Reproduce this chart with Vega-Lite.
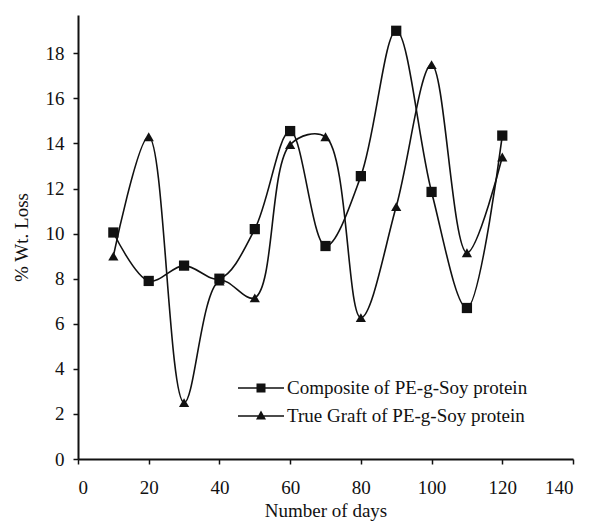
{
  "$schema": "https://vega.github.io/schema/vega-lite/v6.json",
  "width": 495,
  "height": 444,
  "autosize": {"type": "none"},
  "padding": {"left": 78, "top": 15, "right": 17, "bottom": 67},
  "background": "white",
  "config": {
    "view": {"stroke": null},
    "font": "Liberation Serif",
    "axis": {
      "grid": false,
      "domainColor": "#111",
      "domainWidth": 2,
      "tickColor": "#111",
      "tickWidth": 1.5,
      "tickSize": 5,
      "labelFont": "Liberation Serif",
      "labelFontSize": 19,
      "labelColor": "#111",
      "titleFont": "Liberation Serif",
      "titleFontSize": 19,
      "titleFontWeight": "normal",
      "titleColor": "#111"
    }
  },
  "data": {
    "values": [
      {"day": 10, "loss": 10.05, "series": "Composite of PE-g-Soy protein"},
      {"day": 20, "loss": 7.9, "series": "Composite of PE-g-Soy protein"},
      {"day": 30, "loss": 8.58, "series": "Composite of PE-g-Soy protein"},
      {"day": 40, "loss": 8.0, "series": "Composite of PE-g-Soy protein"},
      {"day": 50, "loss": 10.2, "series": "Composite of PE-g-Soy protein"},
      {"day": 60, "loss": 14.55, "series": "Composite of PE-g-Soy protein"},
      {"day": 70, "loss": 9.45, "series": "Composite of PE-g-Soy protein"},
      {"day": 80, "loss": 12.55, "series": "Composite of PE-g-Soy protein"},
      {"day": 90, "loss": 19.0, "series": "Composite of PE-g-Soy protein"},
      {"day": 100, "loss": 11.85, "series": "Composite of PE-g-Soy protein"},
      {"day": 110, "loss": 6.7, "series": "Composite of PE-g-Soy protein"},
      {"day": 120, "loss": 14.35, "series": "Composite of PE-g-Soy protein"},
      {"day": 10, "loss": 9.0, "series": "True Graft of PE-g-Soy protein"},
      {"day": 20, "loss": 14.3, "series": "True Graft of PE-g-Soy protein"},
      {"day": 30, "loss": 2.5, "series": "True Graft of PE-g-Soy protein"},
      {"day": 40, "loss": 7.9, "series": "True Graft of PE-g-Soy protein"},
      {"day": 50, "loss": 7.15, "series": "True Graft of PE-g-Soy protein"},
      {"day": 60, "loss": 13.95, "series": "True Graft of PE-g-Soy protein"},
      {"day": 70, "loss": 14.3, "series": "True Graft of PE-g-Soy protein"},
      {"day": 80, "loss": 6.27, "series": "True Graft of PE-g-Soy protein"},
      {"day": 90, "loss": 11.2, "series": "True Graft of PE-g-Soy protein"},
      {"day": 100, "loss": 17.5, "series": "True Graft of PE-g-Soy protein"},
      {"day": 110, "loss": 9.15, "series": "True Graft of PE-g-Soy protein"},
      {"day": 120, "loss": 13.4, "series": "True Graft of PE-g-Soy protein"}
    ]
  },
  "encoding": {
    "x": {
      "field": "day",
      "type": "quantitative",
      "scale": {"domain": [0, 140], "nice": false},
      "axis": {"values": [0, 20, 40, 60, 80, 100, 120, 140], "title": "Number of days", "labelPadding": 14, "titlePadding": 4}
    },
    "y": {
      "field": "loss",
      "type": "quantitative",
      "scale": {"domain": [0, 19.7], "nice": false},
      "axis": {"values": [0, 2, 4, 6, 8, 10, 12, 14, 16, 18], "title": "% Wt. Loss", "labelPadding": 9, "titlePadding": 14}
    }
  },
  "layer": [
    {
      "mark": {"type": "line", "interpolate": "catmull-rom", "color": "#111", "strokeWidth": 1.6},
      "encoding": {"detail": {"field": "series"}}
    },
    {
      "mark": {"type": "point", "filled": true, "color": "#111", "opacity": 1, "size": 105},
      "encoding": {
        "shape": {
          "field": "series",
          "type": "nominal",
          "scale": {"domain": ["Composite of PE-g-Soy protein", "True Graft of PE-g-Soy protein"], "range": ["square", "triangle-up"]},
          "legend": null
        }
      }
    },
    {
      "mark": {"type": "point", "filled": true, "color": "#111", "opacity": 0, "size": 400},
      "encoding": {
        "shape": {
          "field": "series",
          "type": "nominal",
          "scale": {"domain": ["Composite of PE-g-Soy protein", "True Graft of PE-g-Soy protein"], "range": ["M-2.3,-0.07H2.3V0.07H-2.3ZM-0.45,-0.45H0.45V0.45H-0.45Z", "M-2.3,-0.07H2.3V0.07H-2.3ZM0,-0.55L0.5,0.35H-0.5Z"]},
          "legend": {
            "orient": "none",
            "legendX": 173,
            "legendY": 363,
            "padding": 0,
            "title": null,
            "symbolSize": 400,
            "symbolOpacity": 1,
            "symbolFillColor": "#111",
            "symbolStrokeWidth": 0,
            "rowPadding": 8,
            "labelFont": "Liberation Serif",
            "labelFontSize": 19,
            "labelColor": "#111",
            "labelOffset": 16,
            "labelLimit": 400
          }
        }
      }
    }
  ],
  "resolve": {"scale": {"shape": "independent"}}
}
